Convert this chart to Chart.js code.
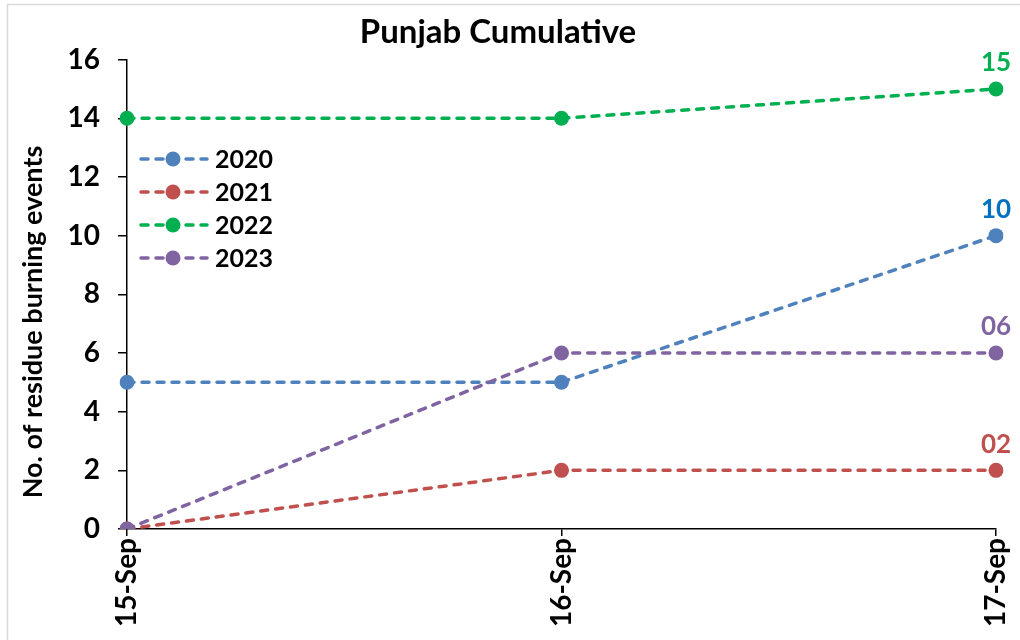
<!DOCTYPE html>
<html>
<head>
<meta charset="utf-8">
<script src="https://cdn.jsdelivr.net/npm/chart.js@4/dist/chart.umd.min.js"></script>
<style>
  html, body { margin: 0; padding: 0; background: #fff; }
  #wrap { width: 1020px; height: 640px; position: relative; }
</style>
</head>
<body>
<div id="wrap"><canvas id="punjabChart"></canvas></div>
<script>
// Punjab cumulative residue burning events, 15-17 Sep
const days = ["15-Sep", "16-Sep", "17-Sep"];
const seriesNames = ["2020", "2021", "2022", "2023"];
const events2020 = [5, 5, 10];
const events2021 = [0, 2, 2];
const events2022 = [14, 14, 15];
const events2023 = [0, 6, 6];
const yTicks = [0, 2, 4, 6, 8, 10, 12, 14, 16];
const yTitle = "No. of residue burning events";

const lineColors = ["#4f81bd", "#c0504d", "#00b050", "#8064a2"];
const labelColors = ["#0070c0", "#c0504d", "#00b050", "#8064a2"];
const FONT = "Lato, 'Open Sans', sans-serif";
const DASH = [7, 8];

function makeSet(i, values) {
  return {
    label: seriesNames[i],
    data: values,
    borderColor: lineColors[i],
    backgroundColor: lineColors[i],
    borderWidth: 3.5,
    borderDash: DASH,
    borderCapStyle: "round",
    pointRadius: 7.5,
    pointHoverRadius: 7.5,
    pointBorderWidth: 0,
    tension: 0,
    order: 4 - i
  };
}

// outer frame + rotated y title, placed like the exported chart
const framePlugin = {
  id: "frame",
  beforeDraw(chart) {
    const c = chart.ctx;
    c.save();
    c.fillStyle = "#fff";
    c.fillRect(0, 0, chart.width, chart.height);
    c.strokeStyle = "#d9d9d9";
    c.lineWidth = 1.5;
    c.strokeRect(7.5, 4.5, chart.width + 10, chart.height + 10);
    c.translate(33, 322);
    c.rotate(-Math.PI / 2);
    c.font = "bold 27px " + FONT;
    c.fillStyle = "#000";
    c.textAlign = "center";
    c.textBaseline = "middle";
    c.fillText(yTitle, 0, 0);
    c.restore();
  }
};

// value labels over the last point of each line
const endLabels = {
  id: "endLabels",
  afterDatasetsDraw(chart) {
    const c = chart.ctx;
    c.save();
    c.font = "bold 26px " + FONT;
    c.textAlign = "center";
    c.textBaseline = "bottom";
    chart.data.datasets.forEach((ds, i) => {
      const meta = chart.getDatasetMeta(i);
      const last = meta.data[meta.data.length - 1];
      const v = ds.data[ds.data.length - 1];
      c.fillStyle = labelColors[i];
      c.fillText(String(v).padStart(2, "0"), last.x, last.y - 13);
    });
    c.restore();
  }
};

// legend sitting inside the plot, top-left
const innerLegend = {
  id: "innerLegend",
  afterDraw(chart) {
    const c = chart.ctx;
    const x0 = 139, y0 = 159, step = 33;
    c.save();
    c.font = "bold 25px " + FONT;
    c.textBaseline = "middle";
    chart.data.datasets.forEach((ds, i) => {
      const y = y0 + i * step;
      c.strokeStyle = ds.borderColor;
      c.lineWidth = 3.5;
      c.lineCap = "round";
      c.setLineDash(DASH);
      c.beginPath();
      c.moveTo(x0 + 2, y);
      c.lineTo(x0 + 68, y);
      c.stroke();
      c.setLineDash([]);
      c.fillStyle = ds.borderColor;
      c.beginPath();
      c.arc(x0 + 34, y, 7.5, 0, Math.PI * 2);
      c.fill();
      c.fillStyle = "#000";
      c.fillText(ds.label, x0 + 76, y + 1);
    });
    c.restore();
  }
};

new Chart(document.getElementById("punjabChart"), {
  type: "line",
  data: {
    labels: days,
    datasets: [
      makeSet(0, events2020),
      makeSet(1, events2021),
      makeSet(2, events2022),
      makeSet(3, events2023)
    ]
  },
  options: {
    responsive: true,
    maintainAspectRatio: false,
    animation: false,
    layout: { padding: { top: 0, right: 24, left: 0, bottom: 0 } },
    plugins: {
      legend: { display: false },
      tooltip: { enabled: false },
      title: {
        display: true,
        text: "Punjab Cumulative",
        color: "#000",
        font: { family: FONT, size: 33, weight: "bold", lineHeight: 1.2 },
        padding: { top: 13, bottom: 7 }
      }
    },
    scales: {
      x: {
        type: "category",
        offset: false,
        afterFit(axis) { axis.height = 111; axis.paddingRight = 0; axis.paddingLeft = 0; },
        border: { color: "#000", width: 1.5 },
        grid: { display: true, drawOnChartArea: false, drawTicks: true, tickLength: 7, color: "#000", lineWidth: 1.5 },
        ticks: {
          color: "#000",
          minRotation: 90,
          maxRotation: 90,
          padding: 2,
          font: { family: FONT, size: 28, weight: "bold" }
        }
      },
      y: {
        min: 0,
        max: 16,
        afterBuildTicks(axis) { axis.ticks = yTicks.map(v => ({ value: v })); },
        afterFit(axis) { axis.width = 127; },
        border: { color: "#000", width: 1.5 },
        grid: { display: true, drawOnChartArea: false, drawTicks: true, tickLength: 9, color: "#000", lineWidth: 1.5 },
        ticks: {
          color: "#000",
          padding: 18,
          font: { family: FONT, size: 28, weight: "bold" }
        }
      }
    }
  },
  plugins: [framePlugin, endLabels, innerLegend]
});
</script>
</body>
</html>
